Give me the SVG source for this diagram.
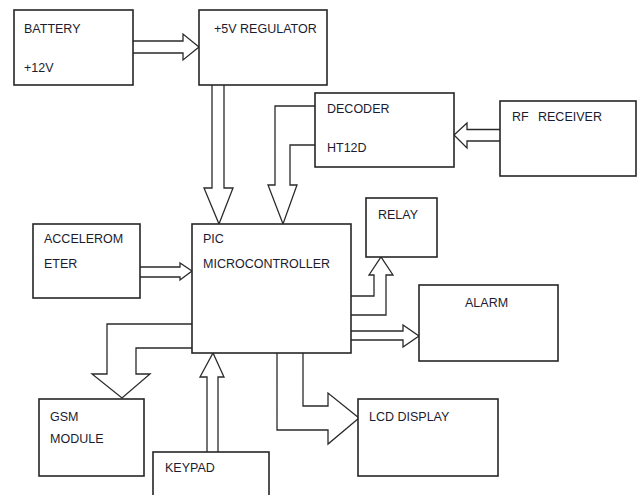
<svg xmlns="http://www.w3.org/2000/svg" width="639" height="495" viewBox="0 0 639 495">
<style>
.box{fill:#fff;stroke:#262626;stroke-width:1.6}
.arr{fill:none;stroke:#2a2a2a;stroke-width:1.3;stroke-linejoin:miter}
text{font-family:"Liberation Sans",Arial,sans-serif;font-size:12.5px;fill:#1c1c30}
</style>
<rect width="639" height="495" fill="#fff"/>
<g id="connectors">
<path class="arr" d="M133,41 L183,41 L183,34 L199,47 L183,60 L183,53 L133,53"/>
<path class="arr" d="M212,85 L212,188 L204,188 L219,224 L233,188 L224,188 L224,85"/>
<path class="arr" d="M315,106 L275,106 L275,185 L268,185 L283,224 L297,185 L290,185 L290,145 L315,145"/>
<path class="arr" d="M500,129.5 L467,129.5 L467,123 L454,135 L467,148 L467,141 L500,141"/>
<path class="arr" d="M140,267 L180,267 L180,263 L192,271 L180,280 L180,277 L140,277"/>
<path class="arr" d="M351,331 L403,331 L403,325 L419,336 L403,347 L403,340 L351,340"/>
<path class="arr" d="M351,296 L374,296 L374,275 L369,275 L381,257 L393,275 L386,275 L386,315 L351,315"/>
<path class="arr" d="M192,324 L107,324 L107,374 L92,374 L122,398 L150,374 L136,374 L136,348 L192,348"/>
<path class="arr" d="M207,452 L207,377 L200,377 L213,353 L224,377 L218,377 L218,452"/>
<path class="arr" d="M303,353 L303,406 L328,406 L328,393 L359,418 L328,444 L328,430 L277,430 L277,353"/>
</g>
<g id="battery"><rect class="box" x="14" y="10" width="119" height="75"/><text x="24" y="33">BATTERY</text><text x="24" y="72">+12V</text></g>
<g id="regulator"><rect class="box" x="199" y="10" width="128" height="75"/><text x="214" y="33">+5V REGULATOR</text></g>
<g id="decoder"><rect class="box" x="315" y="93" width="139" height="74"/><text x="327" y="113">DECODER</text><text x="327" y="152">HT12D</text></g>
<g id="rf-receiver"><rect class="box" x="500" y="101" width="136" height="75"/><text x="512" y="121">RF</text><text x="538" y="121">RECEIVER</text></g>
<g id="relay"><rect class="box" x="366" y="198" width="71" height="59"/><text x="378" y="219">RELAY</text></g>
<g id="pic"><rect class="box" x="192" y="224" width="159" height="129"/><text x="203" y="243">PIC</text><text x="203" y="268">MICROCONTROLLER</text></g>
<g id="accelerometer"><rect class="box" x="33" y="224" width="107" height="74"/><text x="44" y="243">ACCELEROM</text><text x="44" y="268">ETER</text></g>
<g id="alarm"><rect class="box" x="419" y="285" width="139" height="76"/><text x="465" y="307">ALARM</text></g>
<g id="gsm"><rect class="box" x="39" y="399" width="105" height="77"/><text x="50" y="421">GSM</text><text x="50" y="443">MODULE</text></g>
<g id="keypad"><rect class="box" x="153" y="452" width="116" height="46"/><text x="165" y="472">KEYPAD</text></g>
<g id="lcd"><rect class="box" x="358" y="399" width="140" height="77"/><text x="369" y="421">LCD DISPLAY</text></g>
</svg>
